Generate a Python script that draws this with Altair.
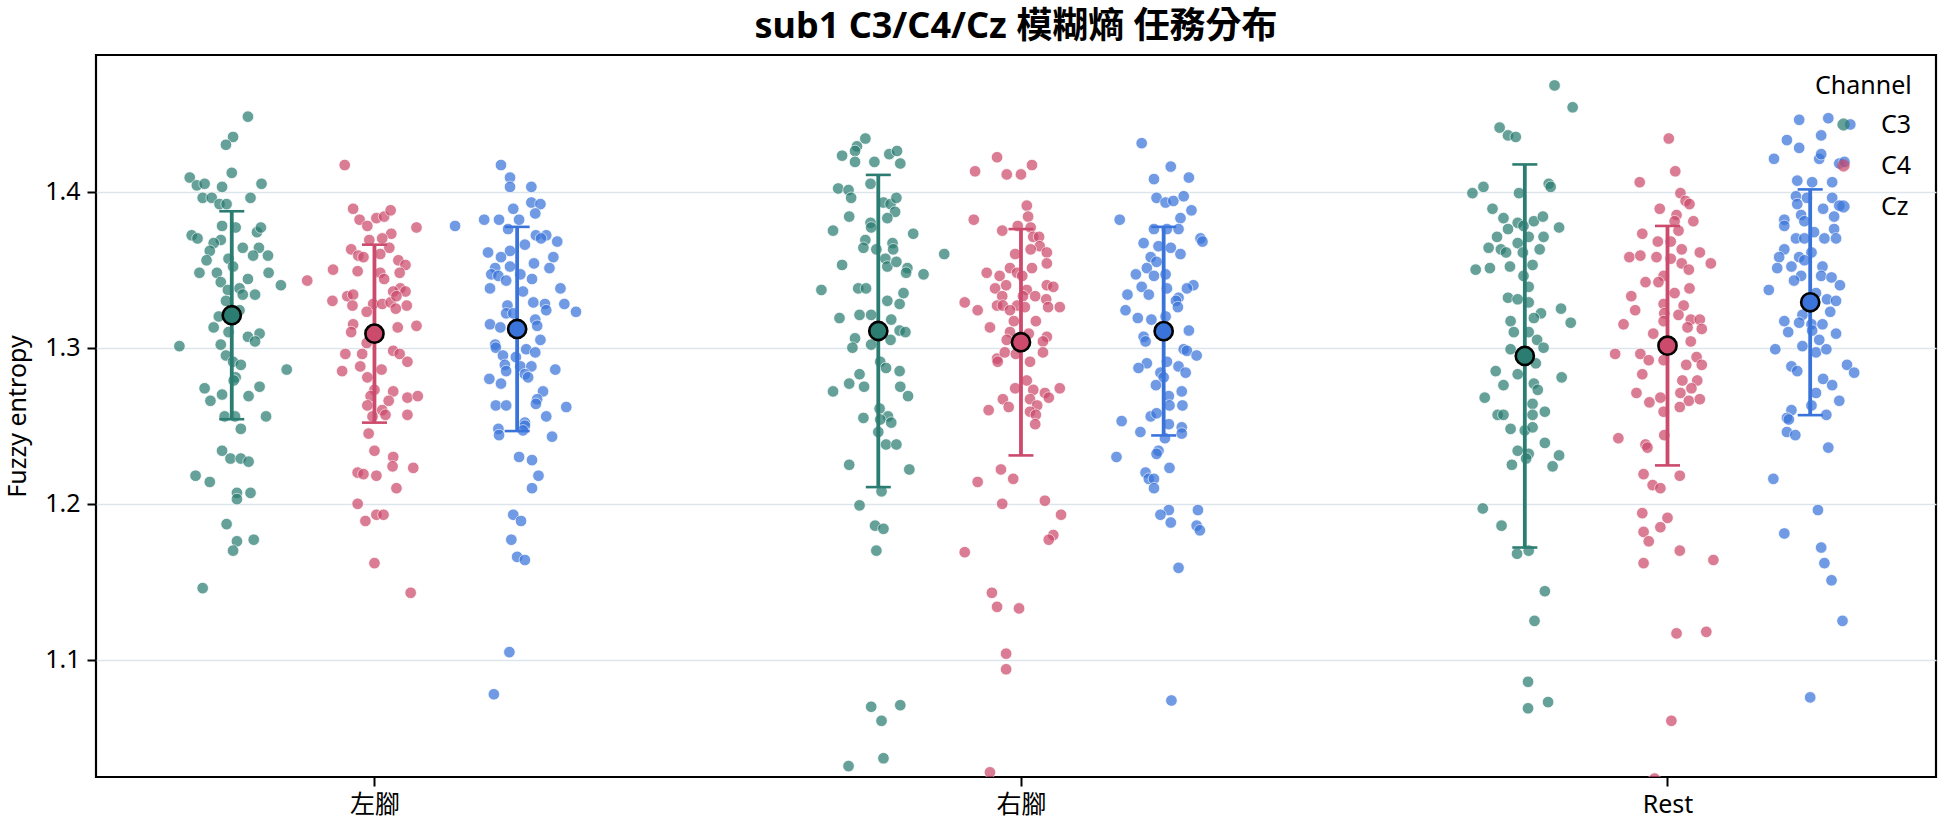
import altair as alt
import pandas as pd

TASKS = ["左腳", "右腳", "Rest"]
CHANNELS = ["C3", "C4", "Cz"]
PALETTE = ["#2b7d72", "#cc4a6c", "#3a74da"]
DODGE = 0.2207  # spacing between channel strips inside one task, in task units

# Fuzzy entropy of every epoch, per task and channel.
# *_jit: horizontal strip jitter of each epoch, in thousandths of a task step.
left_c3 = [1.448, 1.435, 1.430, 1.412, 1.409, 1.404, 1.405, 1.403, 1.405, 1.396,
           1.396, 1.392, 1.392, 1.396, 1.372, 1.370, 1.378, 1.377, 1.374, 1.377,
           1.369, 1.367, 1.364, 1.364, 1.362, 1.356, 1.357, 1.352, 1.359, 1.359,
           1.348, 1.348, 1.342, 1.344, 1.348, 1.340, 1.338, 1.337, 1.334, 1.334,
           1.330, 1.324, 1.320, 1.313, 1.310, 1.307, 1.309, 1.304, 1.301, 1.302,
           1.295, 1.291, 1.289, 1.286, 1.281, 1.279, 1.274, 1.266, 1.270, 1.269,
           1.275, 1.256, 1.256, 1.256,
           1.248, 1.234, 1.229, 1.229, 1.227, 1.218, 1.214, 1.207, 1.203, 1.207,
           1.187, 1.176, 1.170, 1.177, 1.146]
left_c3_jit = [25, 2, -9, 0, -65, -54, -42, -15, 46, -45,
               -31, -19, -8, 29, -62, -53, -15, 6, 39, 45,
               -17, -28, 17, 42, -34, -39, -5, 2, 33, 56,
               -50, -23, -17, 25, 57, 76, 12, -6, 17, 36,
               -9, 12, -20, -28, -5, 25, 43, 36, -81, -17,
               -9, 2, 14, 85, 6, 3, -42, -33, -15, 26,
               43, -11, 5, 53,
               14, -15, -2, 14, 26, -56, -34, 8, 8, 29,
               -8, 8, 2, 34, -45]

left_c4 = [1.417, 1.389, 1.382, 1.378, 1.383, 1.384, 1.388, 1.377, 1.373, 1.369,
           1.370, 1.364, 1.363, 1.359, 1.358, 1.360, 1.356, 1.353, 1.350, 1.349,
           1.348, 1.348, 1.344, 1.343, 1.338, 1.336, 1.336, 1.333, 1.334, 1.330,
           1.327, 1.328, 1.328, 1.329, 1.333, 1.327, 1.325, 1.323, 1.315, 1.310,
           1.313, 1.314, 1.303, 1.298, 1.296, 1.291, 1.296, 1.296, 1.286, 1.288,
           1.285, 1.281, 1.273, 1.272, 1.268, 1.269, 1.269, 1.266, 1.263, 1.260,
           1.257, 1.257, 1.256,
           1.245, 1.234, 1.230, 1.224, 1.223, 1.220, 1.219, 1.218, 1.210, 1.200,
           1.193, 1.193, 1.189, 1.162, 1.143]
left_c4_jit = [-46, -33, -23, -11, 3, 15, 25, 65, 26, -8,
               12, 23, -36, -25, -17, 9, 37, 48, -64, -26,
               9, 39, 15, -104, 40, 29, 48, -42, -33, -65,
               -34, -2, 12, 25, 34, 50, 33, -12, -33, -36,
               36, 65, -12, 29, 39, 51, -45, -19, 11, -22,
               -50, -11, 0, 29, 51, 67, -6, 22, -11, 12,
               17, 51, -3,
               -9, 0, 29, 28, 60, -26, -17, 3, 34, -26,
               3, 14, -14, 0, 56]

left_cz = [1.417, 1.409, 1.403, 1.403, 1.393, 1.392, 1.389, 1.386, 1.378, 1.382,
           1.382, 1.382, 1.376, 1.366, 1.372, 1.372, 1.370, 1.368, 1.361, 1.362,
           1.358, 1.358, 1.351, 1.354, 1.351, 1.347, 1.346, 1.343, 1.352, 1.347,
           1.344, 1.338, 1.336, 1.338, 1.329, 1.328, 1.323, 1.327, 1.322, 1.322,
           1.328, 1.324, 1.318, 1.314, 1.315, 1.313, 1.305, 1.302, 1.300, 1.295,
           1.294, 1.299, 1.297, 1.289, 1.285, 1.288, 1.288, 1.283, 1.281, 1.286,
           1.280, 1.277, 1.272, 1.267, 1.264, 1.263, 1.263, 1.262, 1.256, 1.252,
           1.248, 1.244, 1.250, 1.247, 1.243, 1.230, 1.228, 1.218, 1.210, 1.193,
           1.189, 1.177, 1.166, 1.164, 1.105, 1.078]
left_cz_jit = [-25, -11, -11, 22, 22, 36, -6, 28, -96, -51,
               -28, 3, -14, 12, 29, 45, 37, 62, -45, -11,
               -25, 56, 50, 26, -34, -40, -29, -17, -11, 5,
               23, -42, 9, 67, 25, 73, 91, -15, -17, -6,
               43, 45, 28, 31, -42, -26, 36, -34, -33, -22,
               -2, 14, 28, -19, -17, 5, 22, 12, 17, 59,
               -43, -25, 40, 31, 29, -33, -17, 76, 45, 12,
               -29, -28, 12, 9, 54, 3, 23, 33, 23, -6,
               6, -9, 0, 12, -12, -36]

right_c3 = [1.434, 1.429, 1.426, 1.423, 1.419, 1.419, 1.424, 1.426, 1.418, 1.405,
            1.402, 1.401, 1.396, 1.393, 1.392, 1.396, 1.387, 1.384, 1.383, 1.375,
            1.380, 1.377, 1.373, 1.369, 1.364, 1.363, 1.367, 1.363, 1.360, 1.353,
            1.357, 1.352, 1.355, 1.351, 1.348, 1.347, 1.337, 1.338, 1.338, 1.335,
            1.330, 1.328, 1.319, 1.321, 1.321, 1.318, 1.311, 1.310, 1.306, 1.300,
            1.302, 1.305, 1.291, 1.287, 1.285, 1.283, 1.277, 1.275, 1.275, 1.272,
            1.269, 1.261, 1.255, 1.256,
            1.254, 1.252, 1.246, 1.238, 1.238, 1.225, 1.222, 1.208, 1.199, 1.186,
            1.184, 1.170, 1.070, 1.071, 1.061, 1.037, 1.032]
right_c3_jit = [-20, -33, -36, -56, -36, -6, 17, 29, 34, -12,
                -62, -46, -42, 8, 19, 28, 26, -45, 14, -70,
                -12, -11, 54, -20, -23, -3, 22, 23, 102, -56,
                11, 14, 28, 45, 43, 70, -88, -31, -19, 39,
                14, 33, -60, -29, -11, 20, 33, 42, -36, -40,
                -11, 19, 3, 12, 33, -29, -45, -22, 34, -70,
                46, 2, -23, 15,
                3, 20, 0, 12, 28, -45, 48, 5, -29, -5,
                8, -3, -11, 34, 5, 8, -46]

right_c4 = [1.422, 1.413, 1.411, 1.411, 1.417, 1.391, 1.384, 1.382, 1.375, 1.378,
            1.377, 1.371, 1.371, 1.365, 1.363, 1.361, 1.360, 1.354, 1.351, 1.348,
            1.351, 1.348, 1.346, 1.346, 1.340, 1.338, 1.337, 1.340, 1.339, 1.333,
            1.333, 1.333, 1.331, 1.329, 1.327, 1.327, 1.327, 1.324, 1.326, 1.326,
            1.326, 1.324, 1.317, 1.317, 1.313, 1.310, 1.309, 1.307, 1.305, 1.304,
            1.293, 1.291, 1.297, 1.296, 1.291, 1.297, 1.279, 1.274, 1.273, 1.271,
            1.268, 1.274, 1.267, 1.262, 1.260, 1.267, 1.263, 1.259, 1.257, 1.251,
            1.222, 1.214, 1.216, 1.200, 1.202, 1.193, 1.180, 1.177, 1.169, 1.143,
            1.134, 1.133, 1.104, 1.094, 1.028]
right_c4_jit = [-37, -71, -22, 0, 17, 9, 11, -73, -29, -5,
                15, 19, 28, 29, 15, 40, -9, 40, -17, -6,
                17, -53, -33, 2, -23, -40, 9, 40, 50, -29,
                3, 22, 39, -87, -37, -28, -6, -17, 6, 42,
                60, -67, -11, 23, -48, -17, 12, 40, -22, 34,
                -37, -36, -25, -8, 14, 34, 9, -9, 19, 37,
                43, 60, -28, -19, -50, 14, 25, 14, 23, 22,
                -31, -67, -12, -29, 37, 62, 50, 43, -87, -45,
                -37, -3, -23, -23, -48]

right_cz = [1.431, 1.416, 1.408, 1.409, 1.396, 1.393, 1.394, 1.397, 1.388, 1.382,
            1.383, 1.376, 1.376, 1.376, 1.367, 1.365, 1.364, 1.360, 1.370, 1.368,
            1.358, 1.355, 1.351, 1.347, 1.346, 1.347, 1.338, 1.339, 1.334, 1.334,
            1.340, 1.338, 1.332, 1.330, 1.326, 1.324, 1.319, 1.318, 1.320, 1.311,
            1.307, 1.304, 1.299, 1.298, 1.295, 1.291, 1.290, 1.287, 1.284, 1.288,
            1.284, 1.281, 1.276, 1.272, 1.269, 1.263, 1.263, 1.253, 1.256, 1.258,
            1.251, 1.249, 1.245, 1.246, 1.242, 1.234, 1.232, 1.230, 1.223, 1.220,
            1.216, 1.216, 1.210, 1.196, 1.193, 1.188, 1.196, 1.186, 1.183, 1.159,
            1.074]
right_cz_jit = [-34, 11, -15, 39, -11, 3, 15, 31, 43, -68,
                26, -15, 5, 23, -31, -8, 11, 26, 57, 60,
                -20, -11, -26, -43, -15, 3, 5, -34, -23, -56,
                46, 36, 23, 19, 22, -59, -40, -19, 3, 39,
                -31, -28, 31, 36, 51, 5, -26, -39, -5, 23,
                34, 0, -12, 28, 8, 29, 9, -65, -20, -11,
                8, 28, 28, -36, 2, -8, -11, -73, 9, -28,
                -23, -15, -15, 8, -5, 11, 53, 51, 56, 23,
                12]

rest_c3 = [1.468, 1.454, 1.441, 1.436, 1.435, 1.403, 1.399, 1.399, 1.405, 1.403,
           1.389, 1.383, 1.380, 1.378, 1.381, 1.384, 1.377, 1.376, 1.371, 1.371,
           1.371, 1.367, 1.364, 1.363, 1.361, 1.361, 1.363, 1.350, 1.351, 1.352,
           1.353, 1.346, 1.339, 1.332, 1.331, 1.329, 1.322, 1.325, 1.319, 1.316,
           1.317, 1.310, 1.310, 1.305, 1.300, 1.299, 1.290, 1.285, 1.283, 1.281,
           1.276, 1.277, 1.273, 1.268, 1.264, 1.259, 1.257, 1.257, 1.257,
           1.248, 1.247, 1.249, 1.239, 1.234, 1.232, 1.229, 1.225, 1.231, 1.224,
           1.197, 1.186, 1.168, 1.170, 1.144, 1.125, 1.086, 1.073, 1.069]
rest_c3_jit = [46, 74, -39, -26, -14, -64, -81, -9, 37, 40,
               -50, -33, -11, -2, 14, 28, 53, -26, -43, 6,
               29, -11, -56, -37, -29, -3, 23, -76, -54, -23,
               12, -2, 6, -26, -11, 6, 25, 56, 14, 71,
               -22, -17, 6, 19, 29, -22, 17, -45, -11, 57,
               -33, 14, 20, -62, 12, 31, -42, -33, 12,
               -22, 0, 12, 31, -11, 6, 2, -20, 53, 43,
               -65, -36, -12, 6, 31, 15, 5, 36, 5]

rest_c4 = [1.434, 1.413, 1.406, 1.399, 1.394, 1.392, 1.389, 1.385, 1.381, 1.381,
           1.375, 1.373, 1.368, 1.368, 1.363, 1.358, 1.359, 1.358, 1.357, 1.361,
           1.354, 1.354, 1.350, 1.346, 1.342, 1.342, 1.338, 1.335, 1.333, 1.328,
           1.327, 1.324, 1.322, 1.321, 1.315, 1.317, 1.318, 1.318, 1.313, 1.312,
           1.309, 1.304, 1.296, 1.296, 1.292, 1.292, 1.289, 1.294, 1.289, 1.283,
           1.279, 1.279, 1.274, 1.271, 1.271, 1.268, 1.266, 1.267, 1.265, 1.262,
           1.259,
           1.242, 1.238, 1.236, 1.244, 1.219, 1.218, 1.212, 1.210, 1.194, 1.191,
           1.185, 1.182, 1.176, 1.170, 1.162, 1.164, 1.117, 1.118, 1.061, 1.024]
rest_c4_jit = [2, 12, -43, 20, 28, 34, -12, 14, 11, 40,
               17, -39, -15, 5, 22, -59, -42, -17, 5, 50,
               67, 22, 33, -6, -34, -14, 34, 11, -56, -6,
               25, -50, -5, 17, -68, -6, 36, 50, 31, 53,
               -22, 36, -81, -42, -29, -6, 29, 45, 53, -39,
               23, 46, 37, 20, -48, -11, 33, 50, -28, 19,
               -6,
               -76, -34, -31, -5, -37, 19, -23, -11, -39, 0,
               -11, -37, -29, 19, -37, 71, 14, 60, 6, -20]

rest_cz = [1.446, 1.447, 1.443, 1.433, 1.436, 1.428, 1.421, 1.421, 1.424, 1.418,
           1.419, 1.407, 1.406, 1.406, 1.397, 1.396, 1.392, 1.396, 1.389, 1.391,
           1.382, 1.385, 1.381, 1.384, 1.378, 1.374, 1.376, 1.370, 1.370, 1.370,
           1.370, 1.363, 1.361, 1.358, 1.358, 1.356, 1.351, 1.352, 1.346, 1.343,
           1.352, 1.346, 1.345, 1.340, 1.337, 1.335, 1.331, 1.330, 1.323, 1.321,
           1.317, 1.316, 1.315, 1.315, 1.310, 1.311, 1.309, 1.305, 1.301, 1.299,
           1.297, 1.299, 1.288, 1.285, 1.289, 1.284, 1.280, 1.276, 1.271, 1.266,
           1.263, 1.260, 1.255, 1.257,
           1.254, 1.246, 1.244, 1.236, 1.216, 1.196, 1.181, 1.172, 1.162, 1.151,
           1.125, 1.076]
rest_cz_jit = [-17, 28, 62, -36, 17, -17, -56, 14, 17, 45,
               53, -20, 3, 34, -22, -5, -20, 34, 20, 45,
               -40, -14, -9, 37, -40, 6, 37, -22, -9, 22,
               40, -40, 2, -48, -17, -9, -51, -29, -14, -25,
               19, 17, 33, 46, -64, 9, 26, 40, 31, -12,
               -40, -17, 2, 19, -34, 3, 40, 14, -12, -54,
               9, 25, -29, -20, 57, 68, 20, 34, 9, 45,
               2, -29, -36, 25,
               -33, -36, -23, 28, -57, 12, -40, 17, 22, 33,
               50, 0]

# Mean and standard deviation per task, ordered C3, C4, Cz
MEANS = {"左腳": [1.3208, 1.3090, 1.3120],
         "右腳": [1.3107, 1.3035, 1.3106],
         "Rest": [1.2947, 1.3013, 1.3291]}
SDS = {"左腳": [0.0666, 0.0570, 0.0654],
       "右腳": [0.1000, 0.0725, 0.0668],
       "Rest": [0.1227, 0.0767, 0.0723]}

SAMPLES = {
    ("左腳", "C3"): (left_c3, left_c3_jit),
    ("左腳", "C4"): (left_c4, left_c4_jit),
    ("左腳", "Cz"): (left_cz, left_cz_jit),
    ("右腳", "C3"): (right_c3, right_c3_jit),
    ("右腳", "C4"): (right_c4, right_c4_jit),
    ("右腳", "Cz"): (right_cz, right_cz_jit),
    ("Rest", "C3"): (rest_c3, rest_c3_jit),
    ("Rest", "C4"): (rest_c4, rest_c4_jit),
    ("Rest", "Cz"): (rest_cz, rest_cz_jit),
}

point_rows = []
for (task, ch), (vals, jits) in SAMPLES.items():
    centre = TASKS.index(task) + (CHANNELS.index(ch) - 1) * DODGE
    for v, j in zip(vals, jits):
        point_rows.append({"task": task, "Channel": ch, "x": centre + j / 1000, "fe": v})
points_df = pd.DataFrame(point_rows)

summary_rows = []
for task in TASKS:
    for ci, ch in enumerate(CHANNELS):
        m, s = MEANS[task][ci], SDS[task][ci]
        summary_rows.append({"task": task, "Channel": ch,
                             "x": TASKS.index(task) + (ci - 1) * DODGE,
                             "mean": m, "lo": m - s, "hi": m + s})
summary_df = pd.DataFrame(summary_rows)

FONT = "Noto Sans, Noto Sans CJK TC"
TXT = 25
x_scale = alt.Scale(domain=[-0.4307, 2.4153], nice=False, zero=False)
y_scale = alt.Scale(domain=[1.025, 1.4875], nice=False, zero=False)
color_scale = alt.Scale(domain=CHANNELS, range=PALETTE)

label_expr = "[" + ",".join(f"'{t}'" for t in TASKS) + "][datum.value]"
x_axis = alt.Axis(values=[0, 1, 2], labelExpr=label_expr, title=None, grid=False,
                  domain=False, tickSize=9, tickWidth=2, tickColor="black",
                  labelFontSize=TXT, labelPadding=6, labelColor="black")
y_axis = alt.Axis(values=[1.1, 1.2, 1.3, 1.4], format=".1f", title="Fuzzy entropy",
                  grid=True, gridColor="#dde5ec", gridWidth=1.6, domain=False,
                  tickSize=9, tickWidth=2, tickColor="black",
                  labelFontSize=TXT, labelPadding=7, labelColor="black",
                  titleFontSize=TXT, titleFontWeight="normal", titleColor="black",
                  titlePadding=14)

legend = alt.Legend(title="Channel", orient="none", legendX=1719, legendY=19,
                    titleFontSize=TXT, titleFontWeight="normal", titleColor="black",
                    labelFontSize=TXT, labelColor="black", symbolType="circle",
                    symbolSize=135, symbolOpacity=0.72, symbolStrokeColor="white",
                    symbolStrokeWidth=0.8, rowPadding=15, symbolOffset=16,
                    labelOffset=25, titlePadding=13)

X = alt.X("x:Q", scale=x_scale, axis=x_axis)
colour_plain = alt.Color("Channel:N", scale=color_scale, legend=None)

points = alt.Chart(points_df).mark_circle(
    size=135, opacity=0.72, stroke="white", strokeWidth=0.8, clip=True
).encode(
    x=X,
    y=alt.Y("fe:Q", scale=y_scale, axis=y_axis),
    color=alt.Color("Channel:N", scale=color_scale, legend=legend),
)

bars = alt.Chart(summary_df).mark_rule(strokeWidth=3.8).encode(
    x=X, y=alt.Y("lo:Q", scale=y_scale), y2="hi:Q", color=colour_plain
)
cap_lo = alt.Chart(summary_df).mark_tick(
    orient="horizontal", size=25, thickness=2.6, opacity=1
).encode(x=X, y=alt.Y("lo:Q", scale=y_scale), color=colour_plain)
cap_hi = alt.Chart(summary_df).mark_tick(
    orient="horizontal", size=25, thickness=2.6, opacity=1
).encode(x=X, y=alt.Y("hi:Q", scale=y_scale), color=colour_plain)
means = alt.Chart(summary_df).mark_point(
    filled=True, size=330, stroke="black", strokeWidth=2.6, opacity=1
).encode(x=X, y=alt.Y("mean:Q", scale=y_scale), color=colour_plain)

chart = alt.layer(points, bars, cap_lo, cap_hi, means).properties(
    width=1840, height=722,
    title=alt.TitleParams("sub1 C3/C4/Cz 模糊熵 任務分布", fontSize=36,
                          fontWeight="bold", anchor="middle", color="black", offset=9),
    padding={"left": 96, "top": 55, "right": 8, "bottom": 50},
    autosize=alt.AutoSizeParams(type="none"),
).configure(font=FONT).configure_view(stroke="black", strokeWidth=2.2)

chart.save("out.html", embed_options={"renderer": "svg", "actions": False})
